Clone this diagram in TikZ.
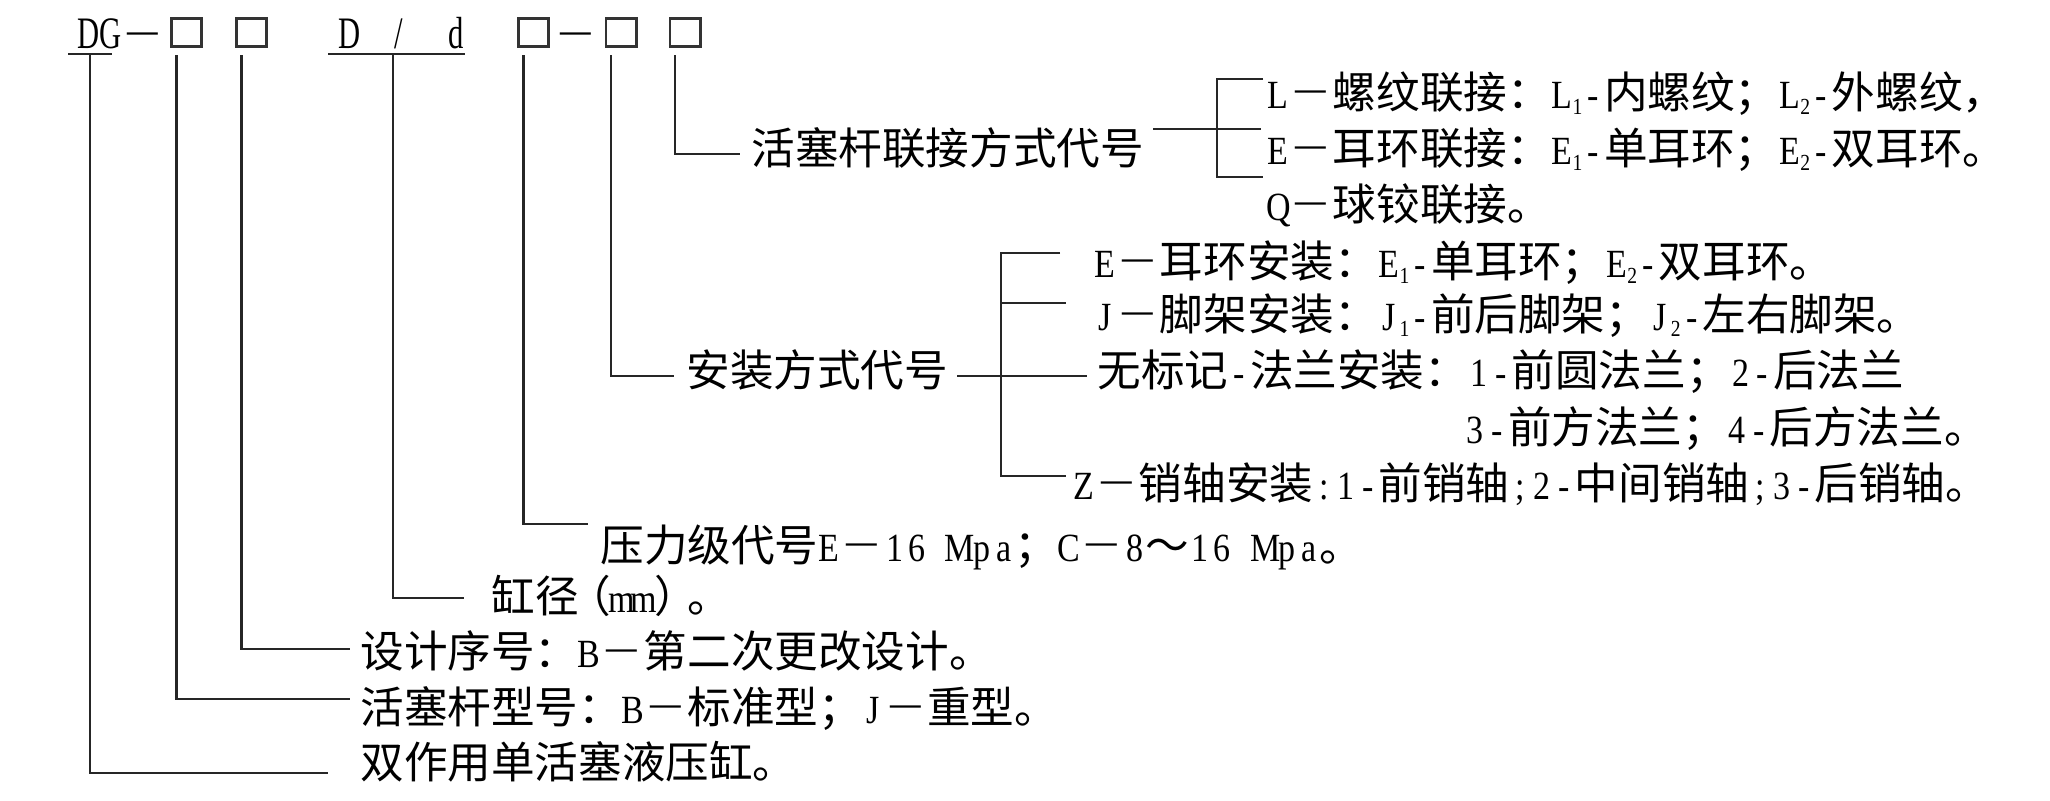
\documentclass[tikz,border=0pt]{standalone}
\usepackage{fontspec}
\setmainfont{Noto Sans CJK SC}
\newfontfamily\latn{Liberation Serif}[FakeStretch=0.85]
\newfontfamily\hdrf{Liberation Serif}[FakeStretch=0.68]
\usetikzlibrary{calc}
\makeatletter
\def\lx@stop{\lx@stop}
\newcommand\lx[1]{\lx@loop#1\lx@stop}
\def\lx@loop#1{\ifx\lx@stop#1\else\makebox[10.9pt][c]{\latn\fontsize{20pt}{23pt}\selectfont#1}\expandafter\lx@loop\fi}
\makeatother
\newcommand\sbx[1]{\raisebox{-0.15em}{\latn\fontsize{11.5pt}{12pt}\selectfont #1}}
\newcommand\dsh{\makebox[21.8pt][c]{\raisebox{2.6pt}{\hdrf\fontsize{22.5pt}{26pt}\selectfont —}}}
\newcommand\lpar{\makebox[16.3pt][r]{（}}
\newcommand\rpar{\makebox[16.3pt][l]{）}}
\tikzset{
  txt/.style={anchor=base west, inner sep=0pt, font=\fontsize{21.8pt}{26pt}\selectfont},
  hdr/.style={anchor=base west, inner sep=0pt, font=\hdrf\fontsize{22.5pt}{26pt}\selectfont},
  codebox/.style={draw=black!80, line width=1.3pt, minimum width=15.2pt, minimum height=14.2pt, inner sep=0pt},
  conn/.style={draw=black!85, line width=1.3pt},
}
\begin{document}
\begin{tikzpicture}[x=0.5pt,y=-0.5pt]
\fill[white] (0,0) rectangle (2050,800);
\useasboundingbox (0,0) rectangle (2050,800);

% ---------- header ----------
\node[hdr] (dg) at (77,48) {DG};
\node[hdr] (dash1) at (127,44) {—};
\node[codebox] (b1) at (186.5,32.5) {};
\node[codebox] (b2) at (251.5,32.5) {};
\node[hdr] (dD) at (338,48) {D};
\node[hdr] (slash) at (394,48) {/};
\node[hdr] (dd) at (448,48) {d};
\node[codebox] (b3) at (533.5,32.5) {};
\node[hdr] (dash2) at (560,44) {—};
\node[codebox] (b4) at (621,32.5) {};
\node[codebox] (b5) at (685,32.5) {};

% ---------- labels ----------
\node[txt] (rod) at (751,164) {活塞杆联接方式代号};
\node[txt] (rL) at (1267,108) {\lx{L}\dsh 螺纹联接：\lx{L}\sbx{1}\lx{-}内螺纹；\lx{L}\sbx{2}\lx{-}外螺纹，};
\node[txt] (rE) at (1267,164) {\lx{E}\dsh 耳环联接：\lx{E}\sbx{1}\lx{-}单耳环；\lx{E}\sbx{2}\lx{-}双耳环。};
\node[txt] (rQ) at (1267,220) {\lx{Q}\dsh 球铰联接。};

\node[txt] (mnt) at (686,386) {安装方式代号};
\node[txt] (mE) at (1094,277) {\lx{E}\dsh 耳环安装：\lx{E}\sbx{1}\lx{-}单耳环；\lx{E}\sbx{2}\lx{-}双耳环。};
\node[txt] (mJ) at (1094,330) {\lx{J}\dsh 脚架安装：\lx{J}\sbx{1}\lx{-}前后脚架；\lx{J}\sbx{2}\lx{-}左右脚架。};
\node[txt] (mW) at (1097,386) {无标记\lx{-}法兰安装：\lx{1-}前圆法兰；\lx{2-}后法兰};
\node[txt] (mW2) at (1464,443) {\lx{3-}前方法兰；\lx{4-}后方法兰。};
\node[txt] (mZ) at (1073,499) {\lx{Z}\dsh 销轴安装\lx{:1-}前销轴\lx{;2-}中间销轴\lx{;3-}后销轴。};

\node[txt] (prs) at (600,561) {压力级代号\lx{E}\dsh\lx{16~Mpa}；\lx{C}\dsh\lx{8}～\lx{16~Mpa}。};
\node[txt] (bore) at (491,612) {缸径\lpar\lx{mm}\rpar 。};
\node[txt] (des) at (360,667) {设计序号：\lx{B}\dsh 第二次更改设计。};
\node[txt] (rtype) at (360,723) {活塞杆型号：\lx{B}\dsh 标准型；\lx{J}\dsh 重型。};
\node[txt] (dbl) at (360,778) {双作用单活塞液压缸。};

% ---------- connector end points ----------
\coordinate (dgL) at (68,54);
\coordinate (dgR) at (112,54);
\coordinate (dgS) at (90,54);
\coordinate (ddL) at (328,54);
\coordinate (ddR) at (465,54);
\coordinate (ddS) at (393,54);
\coordinate (eDbl) at (328,773);
\coordinate (eRt) at (350,699);
\coordinate (eDes) at (350,649);
\coordinate (eBore) at (464,598);
\coordinate (ePrs) at (588,524);
\coordinate (eMnt) at (674,376);
\coordinate (eRod) at (740,154);

\coordinate (r1a) at (1153,129);
\coordinate (r1b) at (1261,129);
\coordinate (r1t) at (1217,79);
\coordinate (r1d) at (1217,177);
\coordinate (r1tE) at (1263,79);
\coordinate (r1dE) at (1263,177);

\coordinate (m2a) at (957,376);
\coordinate (m2b) at (1087,376);
\coordinate (m2t) at (1001,253);
\coordinate (m2d) at (1001,476);
\coordinate (m2j) at (1001,303);
\coordinate (m2tE) at (1060,253);
\coordinate (m2jE) at (1066,303);
\coordinate (m2dE) at (1066,476);

% ---------- connectors ----------
\draw[conn] (dgL) -- (dgR);
\draw[conn] (ddL) -- (ddR);
\draw[conn] (dgS) |- (eDbl);
\draw[conn] ([xshift=-5pt,yshift=-3.6pt]b1.south) |- (eRt);
\draw[conn] ([xshift=-5pt,yshift=-3.6pt]b2.south) |- (eDes);
\draw[conn] (ddS) |- (eBore);
\draw[conn] ([xshift=-5pt,yshift=-3.6pt]b3.south) |- (ePrs);
\draw[conn] ([xshift=-5pt,yshift=-3.6pt]b4.south) |- (eMnt);
\draw[conn] ([xshift=-5pt,yshift=-3.6pt]b5.south) |- (eRod);

\draw[conn] (r1a) -- (r1b);
\draw[conn] (r1tE) -- (r1t) -- (r1d) -- (r1dE);

\draw[conn] (m2a) -- (m2b);
\draw[conn] (m2tE) -- (m2t) -- (m2d) -- (m2dE);
\draw[conn] (m2j) -- (m2jE);
\end{tikzpicture}
\end{document}
